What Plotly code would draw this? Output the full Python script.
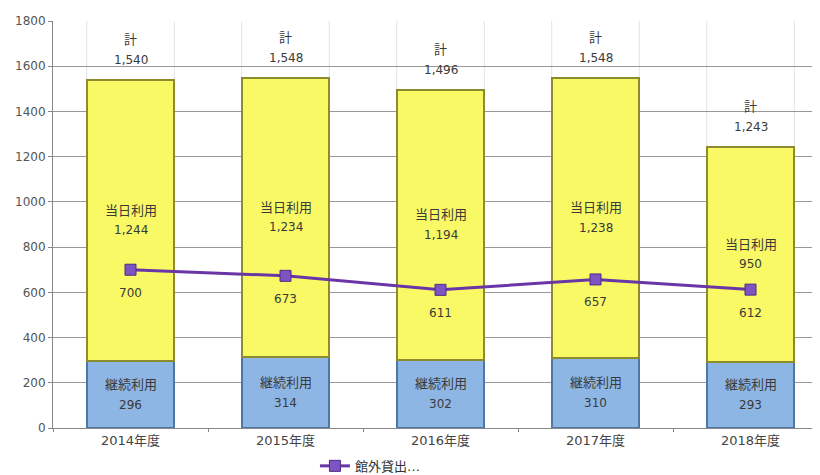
import plotly.graph_objects as go

categories = ["2014年度", "2015年度", "2016年度", "2017年度", "2018年度"]
keizoku = [296, 314, 302, 310, 293]
toujitsu = [1244, 1234, 1194, 1238, 950]
totals = [1540, 1548, 1496, 1548, 1243]
kangai = [700, 673, 611, 657, 612]
y_ticks = [0, 200, 400, 600, 800, 1000, 1200, 1400, 1600, 1800]

FONT = "DejaVu Sans, Noto Sans CJK JP, sans-serif"
BAR_W = 0.565
TXT = "#3a3a3a"

def fmt(v):
    return f"{v:,}"

fig = go.Figure()
fig.add_trace(go.Bar(
    x=categories, y=keizoku, width=BAR_W, name="継続利用",
    marker=dict(color="#8EB6E4", line=dict(color="#4A78A8", width=2)),
    showlegend=False, hoverinfo="skip"))
fig.add_trace(go.Bar(
    x=categories, y=toujitsu, width=BAR_W, name="当日利用",
    marker=dict(color="#F9F966", line=dict(color="#8C8C2E", width=2)),
    showlegend=False, hoverinfo="skip"))
fig.add_trace(go.Scatter(
    x=categories, y=kangai, mode="lines+markers",
    name="館外貸出…",
    line=dict(color="#6A36A6", width=3),
    marker=dict(symbol="square", size=11, color="#7E54C2",
                line=dict(color="#4E2A86", width=1))))

ann = []
def add_label(x, y, text, shift, size=13):
    ann.append(dict(x=x, y=y, xref="x", yref="y", text=text, showarrow=False,
                    yshift=shift, font=dict(size=size, color=TXT, family=FONT)))

for c, k, t, tot, g in zip(categories, keizoku, toujitsu, totals, kangai):
    add_label(c, k / 2, "継続利用", 10)
    add_label(c, k / 2, fmt(k), -10, 12)
    add_label(c, k + t / 2, "当日利用", 10)
    add_label(c, k + t / 2, fmt(t), -10, 12)
    add_label(c, tot, "計", 40)
    add_label(c, tot, fmt(tot), 20, 12)
    add_label(c, g, fmt(g), -23, 12)

shapes = []
for i in range(len(categories)):
    for edge in (i - BAR_W / 2, i + BAR_W / 2):
        shapes.append(dict(type="line", xref="x", yref="paper",
                           x0=edge, x1=edge, y0=0, y1=1, layer="below",
                           line=dict(color="#E2E2E2", width=1)))

fig.update_layout(
    width=820, height=475,
    barmode="stack", bargap=0.435,
    plot_bgcolor="white", paper_bgcolor="white",
    margin=dict(l=45, r=0, t=13, b=55, autoexpand=False),
    font=dict(family=FONT, size=11, color="#444444"),
    shapes=shapes, annotations=ann,
    legend=dict(orientation="h", x=0.338, xanchor="left",
                yref="container", y=0.036, yanchor="middle",
                itemwidth=30,
                font=dict(size=13, color="#333333"), bgcolor="rgba(0,0,0,0)"),
    xaxis=dict(type="category", range=[-0.5, 4.5], showgrid=False,
               showline=True, linecolor="#888888", ticks="outside",
               tickson="boundaries", ticklen=3, tickcolor="#888888",
               tickfont=dict(size=13, color="#444444")),
    yaxis=dict(range=[0, 1800], tickvals=y_ticks, showgrid=True,
               gridcolor="#999999", gridwidth=1, zeroline=False,
               showline=True, linecolor="#888888", ticks="outside",
               ticklen=4, tickcolor="#888888",
               tickfont=dict(size=12, color="#555555")),
)

fig.write_html("out.html")
